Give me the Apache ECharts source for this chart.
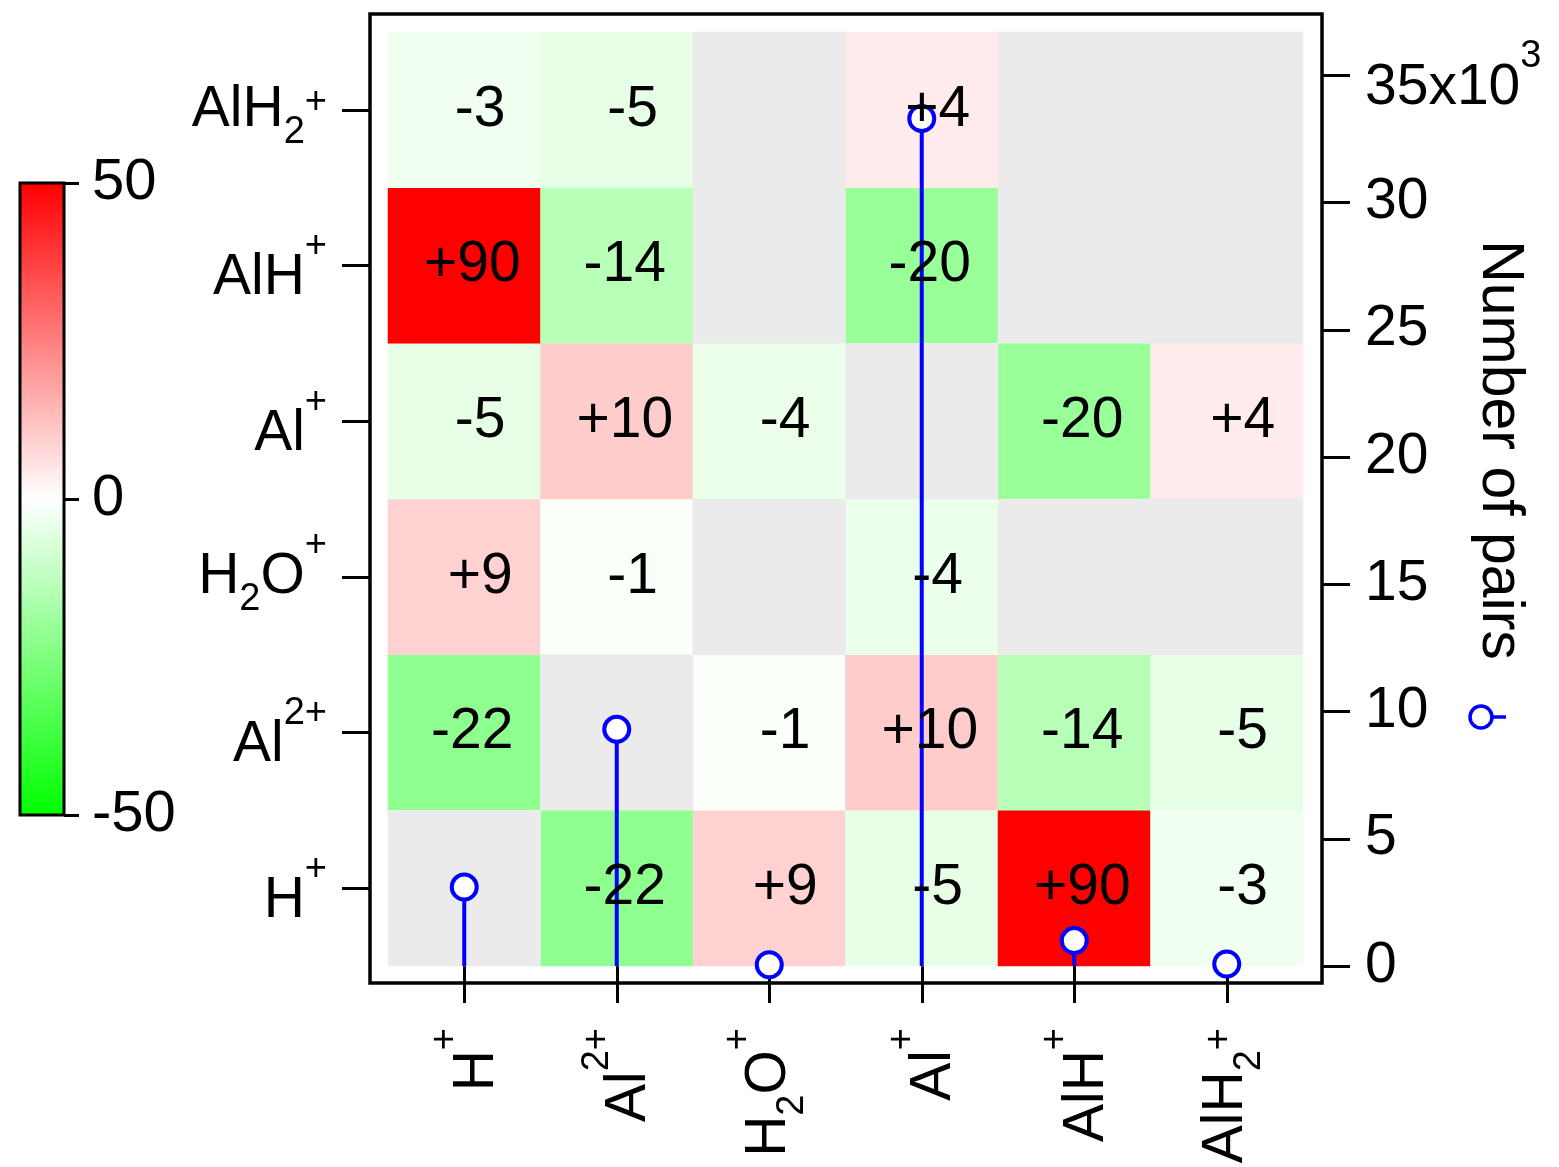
<!DOCTYPE html>
<html>
<head>
<meta charset="utf-8">
<title>Pair correlation changes</title>
<script src="https://cdn.jsdelivr.net/npm/echarts@6/dist/echarts.min.js"></script>
<style>
  html, body { margin: 0; padding: 0; background: #fff; }
  #chart { width: 1559px; height: 1167px; }
</style>
</head>
<body>
<div id="chart"></div>
<script>
// Ion species, in axis order (x: left to right, y: bottom to top)
const ions = ['H+', 'Al2+', 'H2O+', 'Al+', 'AlH+', 'AlH2+'];
// Rich-text versions of the ion names (b/c = base glyphs, sup/sub = script)
const ionLabels = [
  '{b|H}{sup|+}',
  '{b|Al}{sup|2+}',
  '{c|H}{sub|2}{c|O}{sup|+}',
  '{b|Al}{sup|+}',
  '{b|AlH}{sup|+}',
  '{c|AlH}{sub|2}{sup2|+}'
];

// Relative change (%) for each ion pair; one row per y ion, columns follow `ions`.
// null = pair not measured (grey cell)
const rowH    = [null, -22,    9,   -5,   90,   -3];
const rowAl2  = [ -22, null,  -1,   10,  -14,   -5];
const rowH2O  = [   9,   -1, null,  -4, null, null];
const rowAl   = [  -5,   10,  -4, null,  -20,    4];
const rowAlH  = [  90,  -14, null, -20, null, null];
const rowAlH2 = [  -3,   -5, null,   4, null, null];

// Number of pairs recorded for each ion (right axis)
const pairCounts = [3100, 9300, 50, 33300, 1000, 80];
const pairTicks = [0, 5000, 10000, 15000, 20000, 25000, 30000, 35000];
const pairMax = 36700;

// Colour scale
const scaleTicks = [-50, 0, 50];
const scaleColors = ['#00ff00', '#ffffff', '#ff0000'];

const FONT = '"Liberation Sans", Arial, Helvetica, sans-serif';
const BIG = 57;
const SMALL = 38;
const BLUE = '#0000ff';

const base = { fontFamily: FONT, color: '#000' };
const rich = {
  // base glyphs when the label carries only a superscript
  b:    Object.assign({ fontSize: BIG, height: 50, lineHeight: 76, verticalAlign: 'bottom' }, base),
  // base glyphs when the label carries both sub- and superscript
  c:    Object.assign({ fontSize: BIG, height: 100, lineHeight: 100, verticalAlign: 'middle' }, base),
  sup:  Object.assign({ fontSize: SMALL, height: 38, lineHeight: 38, verticalAlign: 'top' }, base),
  // superscript following a subscript sits only slightly above the base line
  sup2: Object.assign({ fontSize: SMALL, height: 86, lineHeight: 86, verticalAlign: 'top' }, base),
  sub:  Object.assign({ fontSize: SMALL, height: 54, lineHeight: 54, verticalAlign: 'bottom' }, base)
};

const rows = [rowH, rowAl2, rowH2O, rowAl, rowAlH, rowAlH2];
const cells = [];
const blanks = [];
rows.forEach((row, yi) => {
  row.forEach((v, xi) => {
    if (v === null) blanks.push([xi, yi, 0]);
    else cells.push([xi, yi, v]);
  });
});

function signed(v) {
  const s = (v > 0 ? '+' : '') + v;
  return s.padStart(3, ' ');
}

const tickStyle = { color: '#000', width: 3 };
const chart = echarts.init(document.getElementById('chart'), null, { renderer: 'canvas' });

chart.setOption({
  animation: false,
  backgroundColor: '#fff',
  textStyle: { fontFamily: FONT },
  grid: [
    { left: 388, top: 32, width: 915, height: 934, show: false },
    { left: 20, top: 183, width: 44, height: 632, show: true, z: 10,
      borderColor: '#000', borderWidth: 3, backgroundColor: 'transparent' }
  ],
  xAxis: [
    {
      type: 'category', gridIndex: 0, data: ions, position: 'bottom', offset: 17,
      axisLine: { show: false },
      axisTick: { show: true, alignWithLabel: true, length: 37, lineStyle: tickStyle },
      axisLabel: {
        rotate: 90, margin: 45, fontSize: BIG, color: '#000', fontFamily: FONT, rich,
        formatter: (v, i) => ionLabels[i]
      },
      splitLine: { show: false }
    },
    { type: 'value', gridIndex: 1, show: false }
  ],
  yAxis: [
    {
      type: 'category', gridIndex: 0, data: ions, position: 'left', offset: 18,
      axisLine: { show: false },
      axisTick: { show: true, alignWithLabel: true, length: 28, lineStyle: tickStyle },
      axisLabel: {
        margin: 43, fontSize: BIG, color: '#000', fontFamily: FONT, rich,
        formatter: (v, i) => ionLabels[i]
      },
      splitLine: { show: false }
    },
    {
      type: 'value', gridIndex: 0, position: 'right', offset: 19,
      min: 0, max: pairMax,
      axisLine: { show: false, onZero: false },
      axisTick: { show: true, length: 28, lineStyle: tickStyle, customValues: pairTicks },
      axisLabel: {
        margin: 43, fontSize: BIG, color: '#000', fontFamily: FONT, rich,
        customValues: pairTicks,
        formatter: v => (v === 35000 ? '{b|35x10}{sup|3}' : String(v / 1000))
      },
      splitLine: { show: false }
    },
    {
      type: 'value', gridIndex: 1, position: 'right',
      min: scaleTicks[0], max: scaleTicks[2], interval: 50,
      axisLine: { show: false, onZero: false },
      axisTick: { show: true, length: 15, lineStyle: tickStyle },
      axisLabel: { margin: 28, fontSize: 58, color: '#000', fontFamily: FONT },
      splitLine: { show: false }
    }
  ],
  visualMap: {
    type: 'continuous',
    seriesIndex: 0,
    min: scaleTicks[0], max: scaleTicks[2],
    orient: 'vertical',
    left: 20, top: 183,
    itemWidth: 44, itemHeight: 632,
    padding: 0,
    calculable: false,
    hoverLink: false,
    inRange: { color: scaleColors }
  },
  series: [
    {
      name: 'change',
      type: 'heatmap',
      xAxisIndex: 0, yAxisIndex: 0,
      data: cells,
      z: 1,
      label: { show: false },
      emphasis: { disabled: true }
    },
    {
      name: 'missing',
      type: 'heatmap',
      xAxisIndex: 0, yAxisIndex: 0,
      data: blanks,
      z: 1,
      itemStyle: { color: '#ebebeb' },
      label: { show: false },
      emphasis: { disabled: true }
    },
    {
      name: 'stems',
      type: 'bar',
      xAxisIndex: 0, yAxisIndex: 1,
      data: pairCounts,
      barWidth: 4,
      z: 3,
      itemStyle: { color: BLUE },
      emphasis: { disabled: true }
    },
    {
      name: 'Number of pairs',
      type: 'scatter',
      xAxisIndex: 0, yAxisIndex: 1,
      data: pairCounts.map((v, i) => [i, v]),
      symbol: 'circle',
      symbolSize: 25,
      z: 4,
      itemStyle: { color: '#ffffff', borderColor: BLUE, borderWidth: 4, opacity: 1 },
      emphasis: { disabled: true }
    },
    {
      // value labels, drawn above the stems
      name: 'values',
      type: 'heatmap',
      xAxisIndex: 0, yAxisIndex: 0,
      data: cells,
      z: 5,
      silent: true,
      itemStyle: { color: 'rgba(0,0,0,0)' },
      label: {
        show: true, offset: [8, 0],
        fontFamily: FONT, fontSize: BIG, color: '#000', opacity: 1,
        formatter: p => signed(p.value[2])
      },
      emphasis: { disabled: true }
    }
  ],
  graphic: [
    {
      type: 'rect', z: 20, silent: true,
      shape: { x: 370, y: 14, width: 952, height: 969 },
      style: { fill: 'none', stroke: '#000', lineWidth: 3.5 }
    },
    {
      type: 'text', z: 20, silent: true,
      x: 1499, y: 450, rotation: -Math.PI / 2,
      style: { text: 'Number of pairs', font: '59px ' + FONT, fill: '#000', align: 'center', verticalAlign: 'middle' }
    },
    {
      type: 'line', z: 20, silent: true,
      shape: { x1: 1492, y1: 717, x2: 1506, y2: 717 },
      style: { stroke: BLUE, lineWidth: 3.5 }
    },
    {
      type: 'circle', z: 21, silent: true,
      shape: { cx: 1481, cy: 717, r: 11 },
      style: { fill: '#ffffff', stroke: BLUE, lineWidth: 3.5 }
    }
  ]
});
</script>
</body>
</html>
